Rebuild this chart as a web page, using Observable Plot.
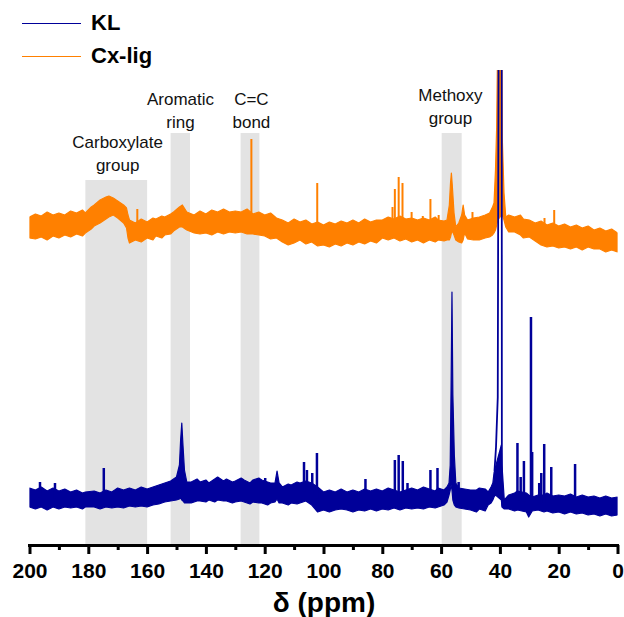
<!DOCTYPE html>
<html><head><meta charset="utf-8">
<script src="https://cdn.jsdelivr.net/npm/d3@7"></script>
<script src="https://cdn.jsdelivr.net/npm/@observablehq/plot@0.6"></script>
<style>
body{margin:0;background:#fff;}
#wrap{position:relative;width:624px;height:617px;font-family:"Liberation Sans",Arial,sans-serif;}
.leg{position:absolute;left:22px;height:24px;display:flex;align-items:center;font-weight:bold;font-size:22px;color:#000;}
.leg .sw{display:inline-block;width:59px;height:0;border-top:1.5px solid;margin-right:10px;}
</style></head><body>
<div id="wrap"></div>
<script>
// Series names and colours
const seriesNames = ["KL", "Cx-lig"];
const seriesColors = ["#000099", "#FF8000"];

// Cx-lig noise envelope (ppm, lower, upper) in arbitrary intensity units
const cxPpm = [200,198,196,194,192,190,188,186,184,182,181,179,178,176,174,173,171.5,170,168,167,166.5,166,164,162,160,158,157,155,154,152,151,149,148,146.5,144,142,140,138,136,134,132,130,128,126,124,122,120,118,116,114,112,110,108,106,104,102,100,98,96,94,92,90,88,86,84,82,80,78,76,74,72,70,68,66,64,62,61,59,58,57.2,56.8,56.5,56.2,55.6,55,54,53,52.5,52,51,49,47,45,43.5,42.5,42,41.5,41.1,40.7,39.4,39.2,38.6,38,37,35,33,32,30,28,26,24,22,20,18,16,14,12,10,8,6,4,2,0];
const cxHi = [328,331,329,333,330,332,330,334,332,335,332,338,340,345,348,349,347,344,340,337,330,325,322,326,323,327,326,329,328,331,333,338,340,333,330,334,331,335,333,336,333,334,333,336,331,333,330,332,327,325,322,326,323,325,321,323,320,323,321,324,322,325,322,326,323,325,325,328,326,329,326,327,325,327,325,328,325,324,325,340,362,372,360,332,318,322,330,340,330,325,327,328,330,332,338,342,375,418,520,520,408,352,328,330,328,330,326,325,322,324,320,322,319,321,318,320,317,319,315,317,314,316,312];
const cxLo = [307,306,308,305,309,307,310,308,311,309,312,316,319,322,326,328,330,327,322,317,307,302,305,303,307,305,309,307,310,311,314,318,318,315,312,311,312,310,313,311,313,312,313,311,311,310,309,306,307,303,300,302,305,301,303,299,300,298,301,299,302,300,303,301,304,302,307,305,307,304,306,303,305,302,305,303,305,304,305,305,308,312,314,310,305,303,302,305,312,306,305,305,307,308,310,312,315,320,325,330,330,325,318,313,313,310,307,308,304,300,298,299,297,298,296,298,295,298,296,296,293,295,293];
// Cx-lig sharp lines (ppm, top intensity)
const cxSpikePpm = [163.5,124.7,102.3,76.7,75.9,74.6,73.3,70.2,66.4,63.8,61,49.5,25,21.7];
const cxSpikeTop = [336,406,362,338,356,368,362,333,329,346,330,333,327,335];

// KL noise envelope
const klPpm = [200,198,196,194,192,190,188,186,184,182,181,178,176,174,172,170,168,166,164,162,160,158,156,154,152,150,149,148.6,148.2,147.8,147.3,146.5,145,143,142,140,139,137,136,134,133,131,130,128,127,125,124,122,121,119,118,116.5,115.8,115.1,114,112,111,109,108,106,104,102,100,98,96,94,92,90,88,86,84,82,80,78,76,74,72,70,68,66,64,62,61,59,58,57.3,56.9,56.6,56.3,56,55.5,55,54,52,50,48,47,45,44,43,42.4,42,41.5,39.5,39.3,38.5,37,35,34,31,30.2,29,27,25,24,22,20,18,16,14,12,10,8,6,4,2,0];
const klHi = [57,55,58,54,57,54,56,53,55,52,53,54,52,55,53,57,55,57,55,58,56,58,60,62,64,68,80,105,122,100,75,63,63,66,63,65,62,66,68,64,66,63,64,67,65,62,65,67,65,63,62,62,74,62,58,61,60,63,62,64,62,58,53,55,53,56,53,55,53,56,54,56,54,57,55,53,55,57,55,58,56,54,57,55,58,62,80,160,253,150,90,62,57,56,55,55,57,56,53,58,62,72,78,100,80,45,50,52,54,52,50,48,50,50,52,49,50,49,51,48,50,48,49,47,49,47,48,47];
const klLo = [38,36,38,35,38,36,38,37,38,36,38,38,36,38,37,38,37,39,38,39,38,40,41,43,44,45,46,47,45,44,42,42,42,44,44,43,45,43,45,44,44,42,43,44,43,41,43,42,42,40,42,43,46,42,42,40,42,41,42,44,40,33,35,33,35,36,35,33,35,34,36,34,36,35,37,35,37,36,37,36,38,37,38,40,43,50,55,60,55,45,40,38,37,36,35,33,36,34,40,42,45,48,50,45,38,36,36,34,35,33,28,34,35,33,34,32,33,31,33,31,32,30,31,29,31,29,30];
// KL sharp lines
const klSpikePpm = [196.6,191.5,174.9,120,106.8,105.8,104,102.4,85.9,75.9,74.6,73.2,71.6,63.8,61.4,54.2,34.2,33.1,32,29.6,29.2,26.8,26.1,25.1,22.7,14.6];
const klSpikeTop = [63,62,77,67,83,75,72,92,66,85,90,84,62,75,77,63,102,68,84,228,93,62,72,101,78,81];
// KL main peak profile at ~40 ppm
const klPeakPpm = [42.0,41.5,40.9,40.6,39.55,39.5,39.3];
const klPeakVal = [75,98,148,520,520,75,40];

// Shaded assignment regions
const regionNames = ["Carboxylate\ngroup","Aromatic\nring","C=C\nbond","Methoxy\ngroup"];
const regionFrom = [181,152,128.2,59.8];
const regionTo = [160,145.4,121.8,53];
const regionTop = [365,412,412,412];
const regionLabelPpm = [170.2,148.8,124.7,57];
const regionLabelY = [393,436,436,440];

// Axis ticks
const majorTicks = [0,20,40,60,80,100,120,140,160,180,200];
const minorTicks = [10,30,50,70,90,110,130,150,170,190];

function interp(xs, ys, x) {
  for (let i = 0; i < xs.length - 1; i++) {
    const a = xs[i], b = xs[i+1];
    if ((x <= a && x >= b) || (x >= a && x <= b)) {
      const t = (x - a) / (b - a);
      return ys[i] + t * (ys[i+1] - ys[i]);
    }
  }
  return ys[ys.length-1];
}

const cxBand = cxPpm.map((p,i)=>({ppm:p, lo:cxLo[i], hi:cxHi[i]}));
const klBand = klPpm.map((p,i)=>({ppm:p, lo:klLo[i], hi:klHi[i]}));
const cxSpikes = cxSpikePpm.map((p,i)=>({ppm:p, top:cxSpikeTop[i], base:(interp(cxPpm,cxLo,p)+interp(cxPpm,cxHi,p))/2}));
const klSpikes = klSpikePpm.map((p,i)=>({ppm:p, top:klSpikeTop[i], base:(interp(klPpm,klLo,p)+interp(klPpm,klHi,p))/2}));
const klPeak = klPeakPpm.map((p,i)=>({ppm:p, v:klPeakVal[i]}));
const regions = regionNames.map((n,i)=>({name:n, x1:regionFrom[i], x2:regionTo[i], top:regionTop[i], lx:regionLabelPpm[i], ly:regionLabelY[i]}));

const FONT = '"Liberation Sans", Arial, sans-serif';
const chart = Plot.plot({
  width: 624, height: 617,
  marginTop: 70, marginBottom: 72, marginLeft: 29.5, marginRight: 6.5,
  x: {domain: [200, 0], axis: null},
  y: {domain: [0, 475], axis: null},
  style: {fontFamily: FONT, background: "white", overflow: "visible", color: "black"},
  marks: [
    Plot.rectY(regions, {x1: "x1", x2: "x2", y1: 0, y2: "top", fill: "#e3e3e3"}),
    Plot.text(regions, {x: "lx", y: "ly", text: "name", fontSize: 17, lineHeight: 1.33, fill: "#111", fontWeight: "normal", textAnchor: "middle", lineAnchor: "middle"}),
    Plot.areaY(cxBand, {x: "ppm", y1: "lo", y2: "hi", fill: seriesColors[1], stroke: seriesColors[1], strokeWidth: 1.2, clip: true}),
    Plot.ruleX(cxSpikes, {x: "ppm", y1: "base", y2: "top", stroke: seriesColors[1], strokeWidth: 2, clip: true}),
    Plot.areaY(klBand, {x: "ppm", y1: "lo", y2: "hi", fill: seriesColors[0], stroke: seriesColors[0], strokeWidth: 1.2, clip: true}),
    Plot.ruleX(klSpikes, {x: "ppm", y1: "base", y2: "top", stroke: seriesColors[0], strokeWidth: 2.5, clip: true}),
    Plot.lineY(klPeak, {x: "ppm", y: "v", stroke: seriesColors[0], strokeWidth: 1.8, clip: true}),
    Plot.ruleY([0], {x1: 200, x2: 0, stroke: "black", strokeWidth: 3, insetLeft: -1.5, insetRight: -1.5}),
    Plot.axisX(minorTicks, {anchor: "bottom", tickSize: 5, strokeWidth: 3, text: null, label: null, stroke: "black"}),
    Plot.axisX(majorTicks, {anchor: "bottom", tickSize: 9, tickPadding: 9, strokeWidth: 3, fontSize: 21, fontWeight: "bold", label: null, stroke: "black", fill: "black"}),
    Plot.text(["δ (ppm)"], {frameAnchor: "bottom", dy: 58, fontSize: 28, fontWeight: "bold", fill: "black", lineAnchor: "middle"})
  ]
});
const wrap = document.getElementById("wrap");
wrap.appendChild(chart);
const legTop = [11, 44];
seriesNames.forEach((n,i)=>{
  const d = document.createElement("div");
  d.className = "leg";
  d.style.top = legTop[i] + "px";
  const sw = document.createElement("span");
  sw.className = "sw";
  sw.style.borderTopColor = seriesColors[i];
  d.appendChild(sw);
  d.appendChild(document.createTextNode(n));
  wrap.appendChild(d);
});
</script></body></html>
